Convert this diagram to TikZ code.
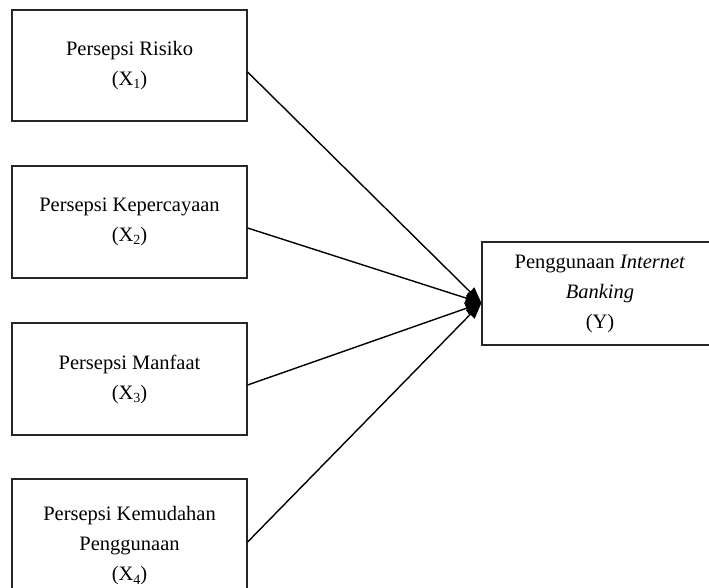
\documentclass[tikz,border=0pt]{standalone}
\usepackage{fontspec}
\setmainfont{Liberation Serif}
\usetikzlibrary{arrows.meta}
\newcommand{\lowsub}[1]{\raisebox{-0.35ex}{\fontsize{14}{14}\selectfont #1}}
\tikzset{
  box/.style={draw=black!85, line width=1.2pt, align=center, inner sep=0pt,
    font=\fontsize{20.5}{30}\selectfont, minimum width=235pt},
  link/.style={line width=1.4pt, -{Triangle[length=16pt,width=12pt]}}
}
\begin{document}
\begin{tikzpicture}[x=1pt,y=-1pt]
\useasboundingbox (0,0) rectangle (709,588);
\clip (0,0) rectangle (709,588);
\node[box, minimum height=111pt] (x1) at (129.5,65.5) {Persepsi Risiko\\(X\lowsub{1})};
\node[box, minimum height=112pt] (x2) at (129.5,222) {Persepsi Kepercayaan\\(X\lowsub{2})};
\node[box, minimum height=112pt] (x3) at (129.5,379) {Persepsi Manfaat\\(X\lowsub{3})};
\node[box, minimum height=134pt] (x4) at (129.5,546) {Persepsi Kemudahan\\Penggunaan\\(X\lowsub{4})};
\node[box, minimum width=236pt, minimum height=103pt] (yy) at (600,293.5) {Penggunaan \textit{Internet}\\\textit{Banking}\\(Y)};
\draw[link] ([yshift=-6.5pt]x1.east) -- ([yshift=-9.5pt]yy.west);
\draw[link] ([yshift=-6pt]x2.east) -- ([yshift=-9.5pt]yy.west);
\draw[link] ([yshift=-6pt]x3.east) -- ([yshift=-9.5pt]yy.west);
\draw[link] ([yshift=4pt]x4.east) -- ([yshift=-9.5pt]yy.west);
\end{tikzpicture}
\end{document}
